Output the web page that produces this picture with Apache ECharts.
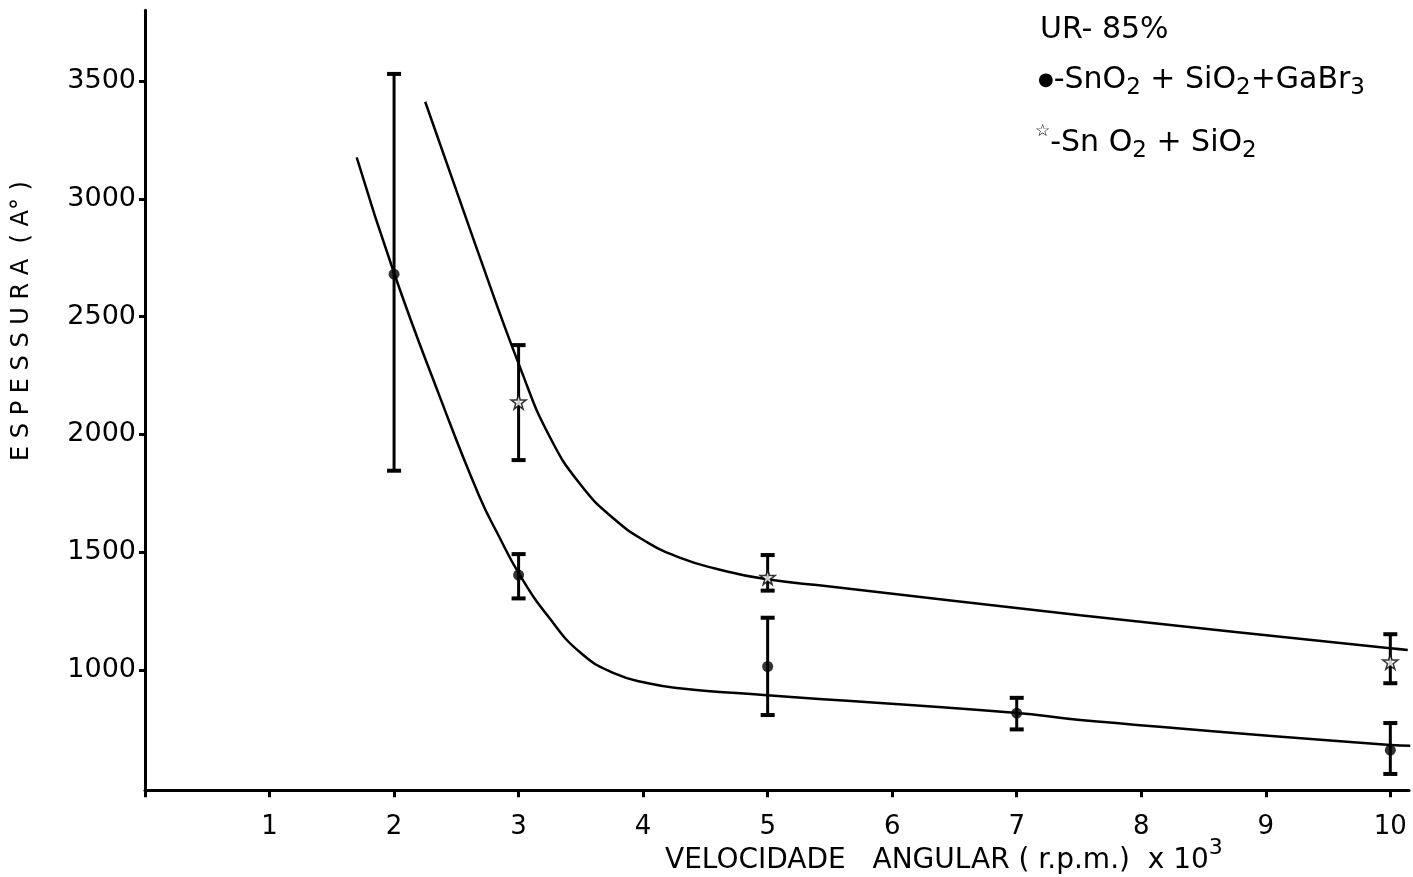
<!DOCTYPE html>
<html>
<head>
<meta charset="utf-8">
<script src="https://cdn.jsdelivr.net/npm/echarts@6/dist/echarts.min.js"></script>
<style>
  html, body { margin: 0; padding: 0; background: #fff; }
  #chart { width: 1413px; height: 877px; }
</style>
</head>
<body>
<div id="chart"></div>
<script>
// Axis ticks and labels
const xTickValues = [0, 1, 2, 3, 4, 5, 6, 7, 8, 9, 10];
const xLabelValues = [1, 2, 3, 4, 5, 6, 7, 8, 9, 10];
const yTickValues = [1000, 1500, 2000, 2500, 3000, 3500];

// SnO2 + SiO2 + GaBr3 (filled dots): mean thickness and error range
const dotX = [2, 3, 5, 7, 10];
const dotY = [2680, 1403, 1015, 817, 660];
const dotLow = [1846, 1304, 809, 748, 559];
const dotHigh = [3530, 1492, 1222, 882, 775];

// SnO2 + SiO2 (open stars): mean thickness and error range
const starX = [3, 5, 10];
const starY = [2139, 1394, 1035];
const starLow = [1891, 1337, 944];
const starHigh = [2379, 1488, 1152];

// Hand-drawn trend curve through the dots
const curveDotX = [1.70, 2.00, 2.36, 2.68, 2.84, 3.01, 3.24, 3.50, 3.77, 4.04, 4.31, 4.97, 6.98, 7.51, 10.0, 10.16];
const curveDotY = [3176, 2685, 2170, 1743, 1570, 1403, 1226, 1072, 986, 944, 922, 894, 819, 788, 682, 679];

// Hand-drawn trend curve through the stars
const curveStarX = [2.25, 2.65, 3.02, 3.25, 3.50, 3.77, 4.04, 4.31, 4.57, 4.97, 5.50, 7.51, 10.0, 10.14];
const curveStarY = [3412, 2810, 2273, 1990, 1785, 1640, 1540, 1474, 1432, 1387, 1355, 1233, 1092, 1085];

const FONT = '"DejaVu Sans", sans-serif';
const INK = '#000';

const zip = (xs, ys) => xs.map((x, i) => [x, ys[i]]);
const zip3 = (xs, a, b) => xs.map((x, i) => [x, a[i], b[i]]);

function errorBar(params, api) {
  const x = api.value(0);
  const lo = api.coord([x, api.value(1)]);
  const hi = api.coord([x, api.value(2)]);
  const w = 7;
  const st = { stroke: INK, lineWidth: 3 };
  return {
    type: 'group',
    children: [
      { type: 'line', shape: { x1: lo[0], y1: lo[1], x2: hi[0], y2: hi[1] }, style: st },
      { type: 'line', shape: { x1: hi[0] - w, y1: hi[1], x2: hi[0] + w, y2: hi[1] }, style: { stroke: INK, lineWidth: 4 } },
      { type: 'line', shape: { x1: lo[0] - w, y1: lo[1], x2: lo[0] + w, y2: lo[1] }, style: { stroke: INK, lineWidth: 4 } }
    ]
  };
}

const STAR = 'path://M50,0 L61,35 L98,35 L68,57 L79,91 L50,70 L21,91 L32,57 L2,35 L39,35 Z';

const chart = echarts.init(document.getElementById('chart'), null, { renderer: 'canvas' });

const legendRich = {
  n: { fontFamily: FONT, fontSize: 30, color: INK, lineHeight: 40, verticalAlign: 'middle' },
  s: { fontFamily: FONT, fontSize: 23, color: INK, lineHeight: 21, verticalAlign: 'bottom' },
  d: { fontFamily: FONT, fontSize: 18, color: INK, lineHeight: 40, verticalAlign: 'middle' },
  st: { fontFamily: FONT, fontSize: 17, color: INK, lineHeight: 21, verticalAlign: 'top' }
};

chart.setOption({
  backgroundColor: '#fff',
  animation: false,
  grid: { left: 145, right: 4, top: 10.3, bottom: 86.8, containLabel: false },
  xAxis: {
    type: 'value',
    min: 0,
    max: 10.15,
    axisLine: { show: true, lineStyle: { color: INK, width: 3 } },
    axisTick: { show: true, customValues: xTickValues, length: 7, inside: false, lineStyle: { color: INK, width: 3 } },
    axisLabel: {
      customValues: xLabelValues,
      formatter: v => String(v),
      margin: 24,
      color: INK,
      fontFamily: FONT,
      fontSize: 26
    },
    splitLine: { show: false }
  },
  yAxis: {
    type: 'value',
    min: 490,
    max: 3800,
    axisLine: { show: true, lineStyle: { color: INK, width: 3 } },
    axisTick: { show: true, customValues: yTickValues, length: 6, lineStyle: { color: INK, width: 3 } },
    axisLabel: {
      customValues: yTickValues,
      formatter: v => String(v),
      margin: 9,
      color: INK,
      fontFamily: FONT,
      fontSize: 27
    },
    splitLine: { show: false }
  },
  graphic: [
    {
      type: 'text', left: 1040, top: 15,
      style: { text: '{n|UR- 85%}', rich: legendRich }
    },
    {
      type: 'text', left: 1038, top: 65,
      style: { text: '{d|●}{n|-SnO}{s|2}{n| + SiO}{s|2}{n|+GaBr}{s|3}', rich: legendRich }
    },
    {
      type: 'text', left: 1035, top: 123,
      style: { text: '{st|☆}{n|-Sn O}{s|2}{n| + SiO}{s|2}', rich: legendRich }
    },
    {
      type: 'text', left: 665, top: 837,
      style: {
        text: '{n|VELOCIDADE   ANGULAR ( r.p.m.)  x 10}{p|3}',
        rich: {
          n: { fontFamily: FONT, fontSize: 28, color: INK, lineHeight: 38, verticalAlign: 'bottom' },
          p: { fontFamily: FONT, fontSize: 22, color: INK, lineHeight: 20, verticalAlign: 'top' }
        }
      }
    },
    {
      type: 'text', x: 22, y: 321, rotation: Math.PI / 2,
      style: {
        text: 'E S P E S S U R A  ( A° )',
        font: '24px ' + FONT,
        fill: INK,
        align: 'center',
        verticalAlign: 'middle'
      }
    }
  ],
  series: [
    {
      name: 'curva SnO2 + SiO2 + GaBr3',
      type: 'line',
      data: zip(curveDotX, curveDotY),
      smooth: 0.5,
      symbol: 'none',
      lineStyle: { color: INK, width: 2.5 },
      z: 2
    },
    {
      name: 'curva SnO2 + SiO2',
      type: 'line',
      data: zip(curveStarX, curveStarY),
      smooth: 0.5,
      symbol: 'none',
      lineStyle: { color: INK, width: 2.5 },
      z: 2
    },
    {
      name: 'erro SnO2 + SiO2 + GaBr3',
      type: 'custom',
      renderItem: errorBar,
      data: zip3(dotX, dotLow, dotHigh),
      z: 3
    },
    {
      name: 'erro SnO2 + SiO2',
      type: 'custom',
      renderItem: errorBar,
      data: zip3(starX, starLow, starHigh),
      z: 3
    },
    {
      name: 'SnO2 + SiO2 + GaBr3',
      type: 'scatter',
      data: zip(dotX, dotY),
      symbol: 'circle',
      symbolSize: 11,
      itemStyle: { color: INK },
      z: 4
    },
    {
      name: 'SnO2 + SiO2',
      type: 'scatter',
      data: zip(starX, starY),
      symbol: STAR,
      symbolSize: 15,
      itemStyle: { color: '#fff', borderColor: INK, borderWidth: 1.5 },
      z: 5
    }
  ]
});
</script>
</body>
</html>
